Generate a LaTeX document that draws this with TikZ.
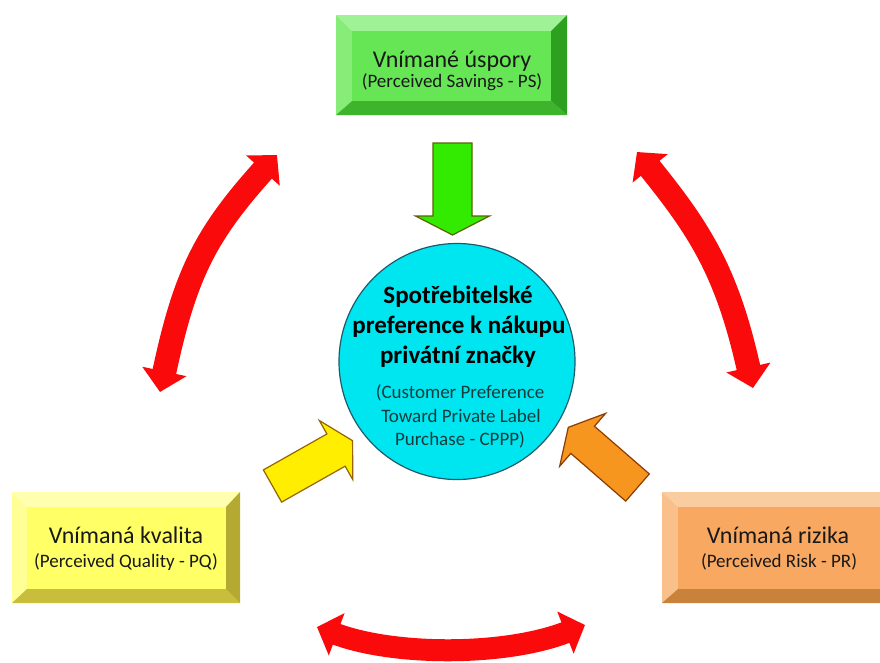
\documentclass[tikz,border=0pt]{standalone}
\usepackage{fontspec}
\setmainfont{Carlito}
\usetikzlibrary{arrows.meta}
\definecolor{gface}{RGB}{102,230,85}
\definecolor{gtop}{RGB}{160,242,150}
\definecolor{gleft}{RGB}{135,236,120}
\definecolor{gbot}{RGB}{62,180,45}
\definecolor{gright}{RGB}{45,160,32}
\definecolor{yface}{RGB}{255,255,102}
\definecolor{ytop}{RGB}{255,255,175}
\definecolor{yleft}{RGB}{255,255,150}
\definecolor{ybot}{RGB}{200,190,60}
\definecolor{yright}{RGB}{180,170,50}
\definecolor{oface}{RGB}{248,168,96}
\definecolor{otop}{RGB}{250,205,160}
\definecolor{oleft}{RGB}{250,192,140}
\definecolor{obot}{RGB}{200,130,60}
\definecolor{oright}{RGB}{180,110,50}
\definecolor{arrowgreen}{RGB}{50,235,0}
\definecolor{arrowgreenline}{RGB}{90,100,0}
\definecolor{arrowyel}{RGB}{255,238,0}
\definecolor{arrowyelline}{RGB}{150,100,0}
\definecolor{arroworange}{RGB}{247,150,30}
\definecolor{arroworangeline}{RGB}{140,60,0}
\definecolor{cyanc}{RGB}{0,230,240}
\definecolor{circline}{RGB}{30,90,110}
\definecolor{redc}{RGB}{250,10,10}
\definecolor{txt}{RGB}{25,25,25}
\definecolor{subtxt}{RGB}{20,60,60}
\newcommand\blockarr[7]{%
  \begin{scope}[shift={(#2)}, rotate=#3]
  \filldraw[#1, line width=1.2pt, line join=miter]
  (0,-#5/2) -- (#4,-#5/2) -- (#4,-#6/2) -- ({#4+#7},0) -- (#4,#6/2) -- (#4,#5/2) -- (0,#5/2) -- cycle;
  \end{scope}}
\tikzset{
  boxtitle/.style={font=\fontsize{24}{28}\selectfont, anchor=base, text=txt, inner sep=0},
  boxsub/.style={font=\fontsize{19}{22}\selectfont, anchor=base, text=txt, inner sep=0},
  ctitle/.style={font=\fontsize{25}{30}\selectfont\bfseries, anchor=base, text=black, inner sep=0},
  csub/.style={font=\fontsize{19}{22}\selectfont, anchor=base, text=subtxt, inner sep=0},
  redarr/.style={draw=redc, line width=24pt, {Triangle[width=44pt,length=21pt]}-{Triangle[width=44pt,length=21pt]}},
  face/.style={rectangle, inner sep=0, draw=none}
}
\begin{document}
\begin{tikzpicture}[x=1pt,y=-1pt]
\useasboundingbox (0,0) rectangle (880,662);
\clip (0,0) rectangle (880,662);
\fill[white] (0,0) rectangle (880,662);

% ---------- top box (PS) ----------
\fill[gtop] (336,15) -- (567,15) -- (551,31) -- (352,31) -- cycle;
\fill[gleft] (336,15) -- (352,31) -- (352,101) -- (336,115) -- cycle;
\fill[gbot] (336,115) -- (352,101) -- (551,101) -- (567,115) -- cycle;
\fill[gright] (567,15) -- (567,115) -- (551,101) -- (551,31) -- cycle;
\node[face, fill=gface, minimum width=199, minimum height=70] (ps) at (451.5,66) {};
\node[boxtitle] (pst) at (452,67) {Vnímané úspory};
\node[boxsub] (pss) at (452,87) {(Perceived Savings - PS)};

% ---------- left box (PQ) ----------
\fill[ytop] (12,492) -- (240,492) -- (226,507) -- (27,507) -- cycle;
\fill[yleft] (12,492) -- (27,507) -- (27,589) -- (12,603) -- cycle;
\fill[ybot] (12,603) -- (27,589) -- (226,589) -- (240,603) -- cycle;
\fill[yright] (240,492) -- (240,603) -- (226,589) -- (226,507) -- cycle;
\node[face, fill=yface, minimum width=199, minimum height=82] (pq) at (126.5,548) {};
\node[boxtitle] (pqt) at (126,543) {Vnímaná kvalita};
\node[boxsub] (pqs) at (126,567) {(Perceived Quality - PQ)};

% ---------- right box (PR) ----------
\fill[otop] (662,492) -- (894,492) -- (880,507) -- (678,507) -- cycle;
\fill[oleft] (662,492) -- (678,507) -- (678,589) -- (662,603) -- cycle;
\fill[obot] (662,603) -- (678,589) -- (880,589) -- (894,603) -- cycle;
\fill[oright] (894,492) -- (894,603) -- (880,589) -- (880,507) -- cycle;
\node[face, fill=oface, minimum width=202, minimum height=82] (pr) at (779,548) {};
\node[boxtitle] (prt) at (778,543) {Vnímaná rizika};
\node[boxsub] (prs) at (779,567) {(Perceived Risk - PR)};

% ---------- central circle ----------
\node[circle, draw=circline, fill=cyanc, line width=1.2pt, minimum size=236, inner sep=0] (cppp) at (457,361.5) {};
\node[ctitle] (c1) at (458,303) {Spotřebitelské};
\node[ctitle] (c2) at (459,333) {preference k nákupu};
\node[ctitle] (c3) at (458,363) {privátní značky};
\node[csub] (c4) at (460,398) {(Customer Preference};
\node[csub] (c5) at (461,422) {Toward Private Label};
\node[csub] (c6) at (460,445) {Purchase - CPPP)};

% ---------- block arrows ----------
\blockarr{fill=arrowgreen, draw=arrowgreenline}{452.5,143}{-90}{73}{39}{74}{19}
\blockarr{fill=arrowyel, draw=arrowyelline}{272.5,486}{29.5}{73}{37}{68}{19}
\blockarr{fill=arroworange, draw=arroworangeline}{637.5,487.5}{139}{72.7}{36}{70}{19}

% ---------- red double arrows ----------
\coordinate (lA) at (277,155);
\coordinate (lB) at (160,392);
\coordinate (rA) at (637,152);
\coordinate (rB) at (753,388);
\coordinate (bA) at (317,627);
\coordinate (bB) at (585,625);
\draw[redarr] (lA) .. controls (205,235) and (185,275) .. (lB);
\draw[redarr] (rA) .. controls (700,230) and (727,272) .. (rB);
\draw[redarr, line width=22pt] (bA) .. controls (395,656) and (505,656) .. (bB);
\end{tikzpicture}
\end{document}
